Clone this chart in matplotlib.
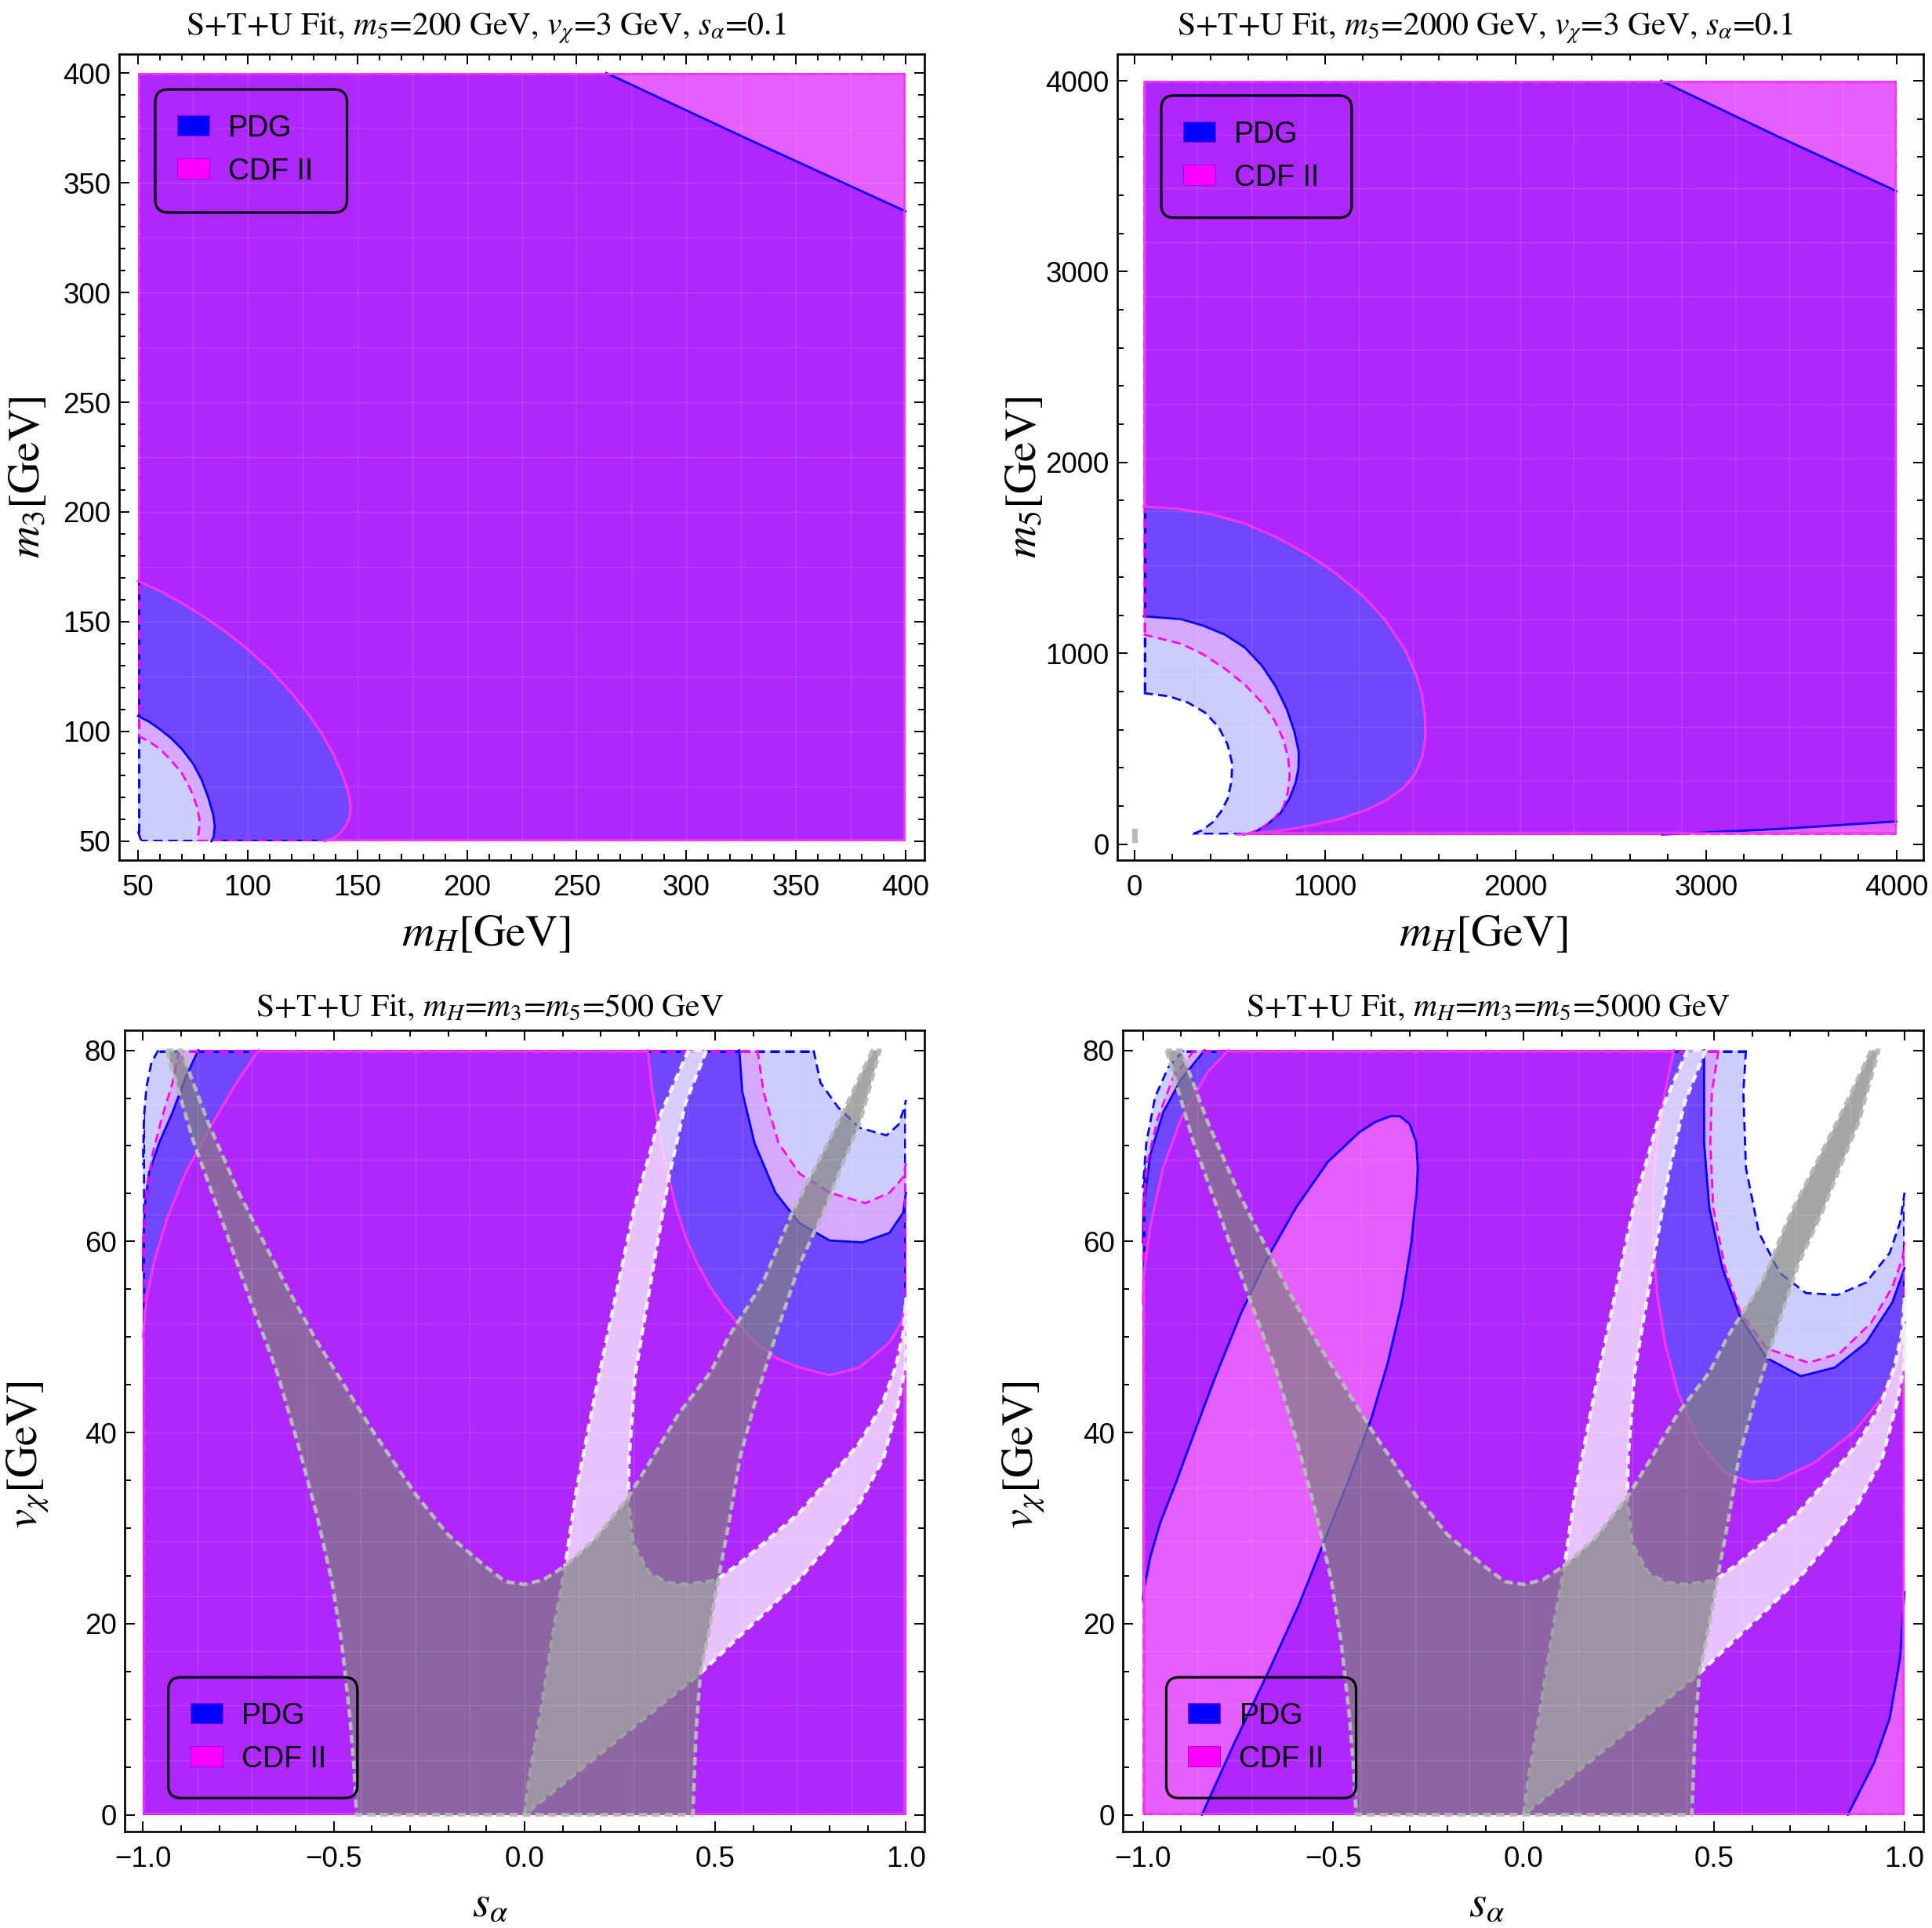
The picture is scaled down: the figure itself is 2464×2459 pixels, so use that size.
import numpy as np
import matplotlib
matplotlib.use("Agg")
import matplotlib.pyplot as plt
from matplotlib.path import Path
from matplotlib.patches import PathPatch, Rectangle, FancyBboxPatch
from matplotlib.ticker import MultipleLocator

plt.rcParams['mathtext.fontset'] = 'stix'
plt.rcParams['font.family'] = ['Liberation Sans', 'DejaVu Sans']

######## boundary curves (x, y) ########

# panel 1: m_H vs m_3, m5=200
p1_pdg95 = [(50, 54.5), (51.5, 50)]
p1_pdg68 = [(50, 107), (55, 104.5), (60, 101), (65, 97), (70, 92), (75, 85.5), (79, 78),
            (82, 70), (84.3, 62), (85, 57), (84.5, 52), (83.5, 50)]
p1_pdg68_top = [(263.5, 400), (330, 369), (400, 337)]
p1_cdf95 = [(50, 98), (55, 95.5), (60, 92), (65, 87), (70, 81), (74, 73.5), (76.8, 66),
            (78, 60), (77.8, 55), (77, 50)]
p1_cdf68 = [(50, 168.5), (60, 164), (70, 158.5), (80, 152.3), (90, 145.4), (100, 137.5), (110, 128.4),
            (120, 117.6), (128, 107.5), (134, 98.8), (139, 89.8), (143, 80.8), (145.8, 72.5), (147, 66),
            (146.5, 61), (144.8, 57), (142, 53.5), (139, 51.3), (135, 50)]

# panel 2: m_H vs m_5, m5=2000
p2_pdg95 = [(50, 791), (180, 775), (281, 742), (370, 690), (443, 613), (490, 520), (514, 420),
            (510, 330), (491, 240), (455, 170), (410, 113), (355, 72), (300, 50)]
p2_pdg68 = [(50, 1194), (249, 1178), (360, 1145), (475, 1098), (580, 1030), (669, 936), (740, 830),
            (799, 710), (840, 590), (863, 484), (862, 400), (847, 323), (815, 240), (766, 161),
            (700, 105), (637, 65), (575, 50)]
p2_pdg68_top = [(2765, 4000), (3385, 3705), (4000, 3422)]
p2_pdg68_bottom = [(2770, 50), (3400, 80), (4000, 119)]
p2_cdf95 = [(50, 1098), (249, 1049), (360, 995), (475, 920), (580, 835), (669, 742), (735, 650),
            (782, 549), (808, 450), (815, 355), (805, 270), (782, 194), (735, 135), (669, 85),
            (610, 58), (565, 50)]
p2_cdf68 = [(50, 1769), (230, 1757), (411, 1727), (580, 1680), (734, 1614), (900, 1525), (1057, 1420),
            (1200, 1300), (1316, 1175), (1420, 1020), (1478, 890), (1510, 780), (1526, 660), (1527, 560),
            (1512, 460), (1475, 370), (1413, 295), (1320, 228), (1219, 180), (1080, 132), (928, 98),
            (780, 73), (637, 58), (540, 50)]
p2_gray_mark = [(-11, 7), (16, 7), (16, 81), (-11, 81)]

# panel 3: s_alpha vs v_chi, masses 500
p3_pdg95_tl = [(-0.960, 80), (-0.978, 78.7), (-0.991, 76.1), (-0.9975, 72.9), (-1.0, 68.0)]
p3_pdg95_tr = [(0.758, 80), (0.776, 76.6), (0.823, 74.0), (0.878, 71.9), (0.949, 71.1),
               (0.980, 72.2), (0.996, 74.0), (1.0, 74.8)]
p3_pdg68_tl = [(-0.855, 80), (-0.888, 77.2), (-0.9225, 73.5), (-0.9567, 70.4), (-0.984, 67.2),
               (-0.994, 64.1), (-0.999, 60.5), (-1.0, 57.0)]
p3_pdg68_tr = [(0.563, 80), (0.5714, 75.6), (0.603, 70.3), (0.658, 65.1), (0.721, 61.9),
               (0.80, 60.1), (0.886, 59.9), (0.957, 60.9), (0.9925, 63.0), (1.0, 65.1)]
p3_cdf95_tl = [(-0.905, 80), (-0.9225, 76.6), (-0.950, 73.0), (-0.974, 69.3), (-0.991, 65.1),
               (-0.9975, 61.5), (-1.0, 58.5)]
p3_cdf95_tr = [(0.611, 80), (0.627, 75.6), (0.666, 70.3), (0.721, 67.1), (0.80, 65.1),
               (0.894, 64.0), (0.957, 65.1), (0.9925, 66.7), (1.0, 68.2)]
p3_cdf68_tl = [(-0.697, 80), (-0.755, 76.6), (-0.82, 72.2), (-0.888, 67.2), (-0.936, 62.5),
               (-0.970, 58.0), (-0.991, 54.0), (-1.0, 50.0)]
p3_cdf68_tr = [(0.3235, 80), (0.3353, 75.6), (0.359, 70.3), (0.378, 66.8), (0.398, 63.5), (0.424, 60.3),
               (0.453, 57.7), (0.487, 55.2), (0.524, 53.1), (0.603, 49.4), (0.66, 47.8), (0.721, 46.8),
               (0.80, 46.0), (0.878, 46.8), (0.957, 49.4), (0.9885, 51.5), (1.0, 53.5)]

# panel 4: s_alpha vs v_chi, masses 5000
p4_pdg95_tl = [(-0.893, 80), (-0.9335, 78.2), (-0.968, 75.1), (-0.991, 70.3), (-1.0, 65.6)]
p4_pdg95_tr = [(0.5835, 80), (0.5766, 75.6), (0.5835, 67.7), (0.6177, 60.9), (0.6726, 56.7),
               (0.741, 54.6), (0.8236, 54.4), (0.899, 55.7), (0.961, 58.8), (0.9883, 62.0), (1.0, 65.1)]
p4_pdg68_tl = [(-0.838, 80), (-0.899, 77.0), (-0.947, 73.5), (-0.981, 69.0), (-0.9986, 63.5), (-1.0, 59.9)]
p4_pdg68_tr = [(0.4736, 80), (0.4736, 70.3), (0.4873, 63.5), (0.5217, 57.2), (0.5697, 52.0),
               (0.638, 47.8), (0.7276, 45.9), (0.8167, 46.8), (0.899, 49.4), (0.9677, 53.6), (1.0, 57.2)]
p4_pdg68_ellipse = [(-0.845, 0), (-0.76, 7.5), (-0.67, 15), (-0.59, 22), (-0.52, 29), (-0.455, 35.5),
                    (-0.40, 41.5), (-0.357, 47.3), (-0.32, 53.6), (-0.295, 59.9), (-0.2815, 65.1),
                    (-0.278, 67.7), (-0.283, 70.5), (-0.30, 72.3), (-0.325, 73.1), (-0.35, 73.1),
                    (-0.39, 72.5), (-0.4324, 71.4), (-0.5147, 68.3), (-0.597, 63.6), (-0.6725, 58.3),
                    (-0.741, 52.6), (-0.81, 45.8), (-0.8647, 40.0), (-0.9127, 34.8), (-0.954, 30.6),
                    (-0.981, 26.9), (-0.9986, 23.2), (-1.0, 22.5)]
p4_pdg68_br = [(0.851, 0), (0.9197, 5.4), (0.961, 10.1), (0.9883, 16.4), (0.9952, 20.6), (1.0, 23.3)]
p4_cdf95_tl = [(-0.865, 80), (-0.92, 77.2), (-0.961, 72.9), (-0.988, 68.3), (-1.0, 63.5)]
p4_cdf95_tr = [(0.5114, 80), (0.494, 75.6), (0.490, 70.3), (0.4977, 63.5), (0.5285, 57.2),
               (0.5697, 52.5), (0.638, 48.8), (0.748, 47.3), (0.830, 48.3), (0.9126, 51.5),
               (0.9677, 55.2), (0.995, 58.3), (1.0, 59.9)]
p4_cdf68_tl = [(-0.7754, 80), (-0.830, 77.7), (-0.899, 72.9), (-0.947, 67.7), (-0.981, 61.5),
               (-0.9986, 56.2), (-1.0, 53.6)]
p4_cdf68_tr = [(0.3947, 80), (0.3706, 75.6), (0.350, 70.3), (0.3397, 65.1), (0.3397, 59.9),
               (0.350, 54.6), (0.3706, 49.4), (0.405, 44.2), (0.460, 39.0), (0.5285, 35.8),
               (0.597, 34.8), (0.666, 35.0), (0.762, 36.8), (0.865, 40.0), (0.940, 43.6),
               (0.9815, 47.3), (1.0, 51.5)]

# gray band and light ribbon (same in panels 3 and 4)
gray_outer_left = [(-0.938, 80), (-0.868, 70.5), (-0.80, 63), (-0.72, 54), (-0.65, 46.5), (-0.595, 39),
                   (-0.545, 31.5), (-0.505, 24.5), (-0.479, 18), (-0.457, 10), (-0.447, 5), (-0.44, 0)]
gray_outer_right = [(0.4415, 0), (0.4495, 8.5), (0.461, 14.8), (0.483, 19), (0.51, 25), (0.538, 31),
                    (0.565, 37.4), (0.61, 44), (0.66, 50.3), (0.72, 57.5), (0.785, 63.2), (0.83, 67.7),
                    (0.88, 72.5), (0.932, 80)]
gray_inner = [(0.912, 80), (0.835, 73.5), (0.762, 67.7), (0.704, 63.2), (0.625, 55.7), (0.535, 50),
              (0.4873, 46.3), (0.405, 42), (0.345, 38), (0.2747, 33.4), (0.186, 28.9), (0.107, 26.05),
              (0.05, 24.6), (0.0, 24.1), (-0.05, 24.4), (-0.10, 25.9), (-0.20, 29.3), (-0.283, 33.4),
              (-0.40, 40.3), (-0.545, 49.6), (-0.62, 55), (-0.683, 59.9), (-0.75, 65.2), (-0.83, 72.5),
              (-0.90, 80)]
rib_outer_left = [(0, 0), (0.012, 3.8), (0.044, 11.1), (0.075, 19.0), (0.107, 26.05), (0.135, 33.7),
                  (0.186, 44.1), (0.241, 54.6), (0.288, 63.5), (0.359, 73.5), (0.43, 80)]
rib_inner = [(0.477, 80), (0.422, 74.5), (0.38, 67), (0.337, 57.2), (0.29, 46), (0.274, 37.3),
             (0.272, 33.1), (0.284, 28.4), (0.327, 25.3), (0.375, 24.3), (0.422, 24.1), (0.50, 24.5),
             (0.564, 26.3), (0.642, 28.9), (0.721, 31.6), (0.80, 35.2), (0.878, 38.9), (0.934, 42.6),
             (0.973, 46.8), (0.993, 50.4), (1.0, 54.0)]
rib_outer_right = [(1.0, 47.3), (0.98, 43.1), (0.941, 37.3), (0.878, 32.6), (0.80, 28.4), (0.721, 24.7),
                   (0.642, 21.6), (0.564, 18.7), (0.461, 14.8)]

legend_labels = ['PDG', 'CDF II']
titles = [r'S+T+U Fit, $m_5$=200 GeV, $v_\chi$=3 GeV, $s_\alpha$=0.1',
          r'S+T+U Fit, $m_5$=2000 GeV, $v_\chi$=3 GeV, $s_\alpha$=0.1',
          r'S+T+U Fit, $m_H$=$m_3$=$m_5$=500 GeV',
          r'S+T+U Fit, $m_H$=$m_3$=$m_5$=5000 GeV']
xlabels = [r'$m_H$[GeV]', r'$m_H$[GeV]', r'$s_\alpha$', r'$s_\alpha$']
ylabels = [r'$m_3$[GeV]', r'$m_5$[GeV]', r'$v_\chi$[GeV]', r'$v_\chi$[GeV]']

######## styles ########
BLUE = (0, 0, 1)
MAGENTA = (1, 0, 1)
LEVELS = ['pdg95', 'pdg68', 'cdf95', 'cdf68']
STYLE = {
    'pdg95': dict(color=BLUE, alpha=0.2, dashed=True, lw=2.0),
    'pdg68': dict(color=BLUE, alpha=0.58, dashed=False, lw=2.0),
    'cdf95': dict(color=MAGENTA, alpha=0.17, dashed=True, lw=2.0),
    'cdf68': dict(color=(1, 0.2, 1), alpha=0.44, dashed=False, lw=2.2),
}


def signed_area(pts):
    x = np.array([p[0] for p in pts])
    y = np.array([p[1] for p in pts])
    return 0.5 * np.sum(x * np.roll(y, -1) - np.roll(x, -1) * y)


def corner(rect, name):
    x0, x1, y0, y1 = rect
    return {'bl': (x0, y0), 'br': (x1, y0), 'tl': (x0, y1), 'tr': (x1, y1)}[name]


def region_path(rect, holes):
    x0, x1, y0, y1 = rect
    rings = [([(x0, y0), (x1, y0), (x1, y1), (x0, y1)], True)]
    for curve, cname in holes:
        rings.append((list(curve) + [corner(rect, cname)], False))
    verts, codes = [], []
    for ring, ccw in rings:
        if (signed_area(ring) > 0) != ccw:
            ring = ring[::-1]
        verts += ring + [ring[0]]
        codes += [Path.MOVETO] + [Path.LINETO] * (len(ring) - 1) + [Path.CLOSEPOLY]
    return Path(verts, codes)


def draw_regions(ax, rect, holes):
    x0, x1, y0, y1 = rect
    fills = {}
    for i, lev in enumerate(LEVELS):
        st = STYLE[lev]
        fc = BLUE if lev.startswith('pdg') else MAGENTA
        patch = PathPatch(region_path(rect, holes.get(lev, [])), facecolor=fc,
                          alpha=st['alpha'], lw=0, zorder=1 + i)
        ax.add_patch(patch)
        fills[lev] = patch
    for i, lev in enumerate(LEVELS):
        st = STYLE[lev]
        kw = dict(color=st['color'], lw=st['lw'], zorder=5 + 0.1 * i,
                  solid_joinstyle='round', dash_joinstyle='round')
        if st['dashed']:
            kw['dashes'] = (4.2, 2.4)
        border = Rectangle((x0, y0), x1 - x0, y1 - y0, fill=False, edgecolor=st['color'],
                           lw=st['lw'] * 1.8, zorder=5 + 0.1 * i,
                           linestyle=(0, (2.4, 1.4)) if st['dashed'] else '-')
        border.set_clip_path(fills[lev])
        ax.add_patch(border)
        for curve, _ in holes.get(lev, []):
            ax.plot([p[0] for p in curve], [p[1] for p in curve], **kw)


def draw_band(ax, rect, pts, fc, alpha, ec, z):
    x0, x1, y0, y1 = rect
    path = Path(pts + [pts[0]], [Path.MOVETO] + [Path.LINETO] * (len(pts) - 1) + [Path.CLOSEPOLY])
    ax.add_patch(PathPatch(path, facecolor=fc, alpha=alpha, lw=0, zorder=z))
    clip = Rectangle((x0, y0), x1 - x0, y1 - y0, transform=ax.transData)
    edge = PathPatch(path, fill=False, edgecolor=ec, lw=3.3, linestyle=(0, (2.3, 1.3)),
                     joinstyle='round', zorder=z + 0.1)
    edge.set_clip_path(clip)
    ax.add_patch(edge)


def draw_legend(ax, box):
    bx, by, bw, bh = box
    fig = ax.figure
    pos = ax.get_position()
    axw = pos.width * fig.get_figwidth() * fig.dpi
    axh = pos.height * fig.get_figheight() * fig.dpi
    ax.add_patch(FancyBboxPatch((bx, by), bw, bh, boxstyle='round,pad=0,rounding_size=0.016',
                                transform=ax.transAxes, fc='none', ec='black', lw=2.3, zorder=20))
    for i, (lab, col) in enumerate(zip(legend_labels, [BLUE, MAGENTA])):
        cy = by + bh - (46 + 55 * i) / axh
        ax.add_patch(Rectangle((bx + 28 / axw, cy - 13 / axh), 41 / axw, 26 / axh, transform=ax.transAxes,
                               fc=col, ec=(0.6, 0, 0.8), lw=0.6, zorder=21))
        ax.text(bx + 93 / axw, cy, lab, transform=ax.transAxes, va='center_baseline', ha='left',
                fontsize=27, zorder=22)


panels = [
    dict(pos=[0.06169, 0.55388, 0.41680, 0.41806], rect=(50, 400, 50, 400),
         xlim=(41.4, 408.6), ylim=(41.4, 408.6), major=(50, 50), minor=(10, 10),
         holes={'pdg95': [(p1_pdg95, 'bl')],
                'pdg68': [(p1_pdg68, 'bl'), (p1_pdg68_top, 'tr')],
                'cdf95': [(p1_cdf95, 'bl')],
                'cdf68': [(p1_cdf68, 'bl')]},
         legend=(0.0448, 0.8035, 0.2381, 0.1527), title_pad=18, xl=(0.455, -0.092), yl=(-0.113, 0.475)),
    dict(pos=[0.57833, 0.55388, 0.41721, 0.41806], rect=(50, 4000, 50, 4000),
         xlim=(-89, 4141), ylim=(-84, 4140), major=(1000, 1000), minor=(200, 200),
         holes={'pdg95': [(p2_pdg95, 'bl')],
                'pdg68': [(p2_pdg68, 'bl'), (p2_pdg68_top, 'tr'), (p2_pdg68_bottom, 'br')],
                'cdf95': [(p2_cdf95, 'bl')],
                'cdf68': [(p2_cdf68, 'bl')]},
         legend=(0.0545, 0.797, 0.2362, 0.1516), title_pad=18, xl=(0.454, -0.092), yl=(-0.115, 0.475)),
    dict(pos=[0.06453, 0.05002, 0.41396, 0.41562], rect=(-1, 1, 0, 80),
         xlim=(-1.048, 1.0485), ylim=(-1.76, 82.1), major=(0.5, 20), minor=(0.1, 5),
         holes={'pdg95': [(p3_pdg95_tl, 'tl'), (p3_pdg95_tr, 'tr')],
                'pdg68': [(p3_pdg68_tl, 'tl'), (p3_pdg68_tr, 'tr')],
                'cdf95': [(p3_cdf95_tl, 'tl'), (p3_cdf95_tr, 'tr')],
                'cdf68': [(p3_cdf68_tl, 'tl'), (p3_cdf68_tr, 'tr')]},
         legend=(0.0545, 0.0418, 0.2365, 0.1507), title_pad=13, xl=(0.457, -0.092), yl=(-0.121, 0.47)),
    dict(pos=[0.58117, 0.05002, 0.41437, 0.41562], rect=(-1, 1, 0, 80),
         xlim=(-1.0527, 1.0494), ylim=(-1.76, 82.1), major=(0.5, 20), minor=(0.1, 5),
         holes={'pdg95': [(p4_pdg95_tl, 'tl'), (p4_pdg95_tr, 'tr')],
                'pdg68': [(p4_pdg68_tl, 'tl'), (p4_pdg68_tr, 'tr'), (p4_pdg68_ellipse, 'bl'),
                          (p4_pdg68_br, 'br')],
                'cdf95': [(p4_cdf95_tl, 'tl'), (p4_cdf95_tr, 'tr')],
                'cdf68': [(p4_cdf68_tl, 'tl'), (p4_cdf68_tr, 'tr')]},
         legend=(0.0543, 0.0418, 0.2371, 0.1507), title_pad=13, xl=(0.4545, -0.092), yl=(-0.123, 0.47)),
]

fig = plt.figure(figsize=(24.64, 24.59), dpi=100)

for k, pn in enumerate(panels):
    ax = fig.add_axes(pn['pos'])
    rect = pn['rect']
    draw_regions(ax, rect, pn['holes'])

    if k >= 2:
        draw_band(ax, rect, rib_outer_left + rib_inner + rib_outer_right, 'white', 0.72,
                  (0.95, 0.95, 0.98), 10)
        draw_band(ax, rect, gray_outer_left + gray_outer_right + gray_inner, (0.5, 0.5, 0.5), 0.71,
                  (0.72, 0.72, 0.72), 11)
    if k == 1:
        ax.add_patch(PathPatch(Path(p2_gray_mark + [p2_gray_mark[0]], closed=True),
                               facecolor=(0.55, 0.55, 0.55), alpha=0.6, lw=0, zorder=11))

    # faint rendering mesh seen in the original
    x0, x1, y0, y1 = rect
    for t in np.linspace(x0, x1, 15)[1:-1]:
        ax.plot([t, t], [y0, y1], color='white', lw=1.0, alpha=0.12, zorder=12)
    for t in np.linspace(y0, y1, 15)[1:-1]:
        ax.plot([x0, x1], [t, t], color='white', lw=1.0, alpha=0.12, zorder=12)

    ax.set_xlim(*pn['xlim'])
    ax.set_ylim(*pn['ylim'])
    ax.xaxis.set_major_locator(MultipleLocator(pn['major'][0]))
    ax.yaxis.set_major_locator(MultipleLocator(pn['major'][1]))
    ax.xaxis.set_minor_locator(MultipleLocator(pn['minor'][0]))
    ax.yaxis.set_minor_locator(MultipleLocator(pn['minor'][1]))
    ax.tick_params(which='both', direction='in', top=True, right=True, labelsize=26.5, width=1.4)
    ax.tick_params(which='major', length=9.4)
    ax.tick_params(which='minor', length=5.8)
    ax.tick_params(axis='x', pad=13)
    ax.tick_params(axis='y', pad=7.5)
    for sp in ax.spines.values():
        sp.set_linewidth(1.9)

    ax.set_title(titles[k], x=0.456, pad=pn['title_pad'], fontsize=30, family='STIXGeneral')
    ax.set_xlabel(xlabels[k], fontsize=41, family='STIXGeneral')
    ax.set_ylabel(ylabels[k], fontsize=41, family='STIXGeneral')
    ax.xaxis.set_label_coords(*pn['xl'])
    ax.yaxis.set_label_coords(*pn['yl'])
    ax.xaxis.label.set_va('center')
    ax.yaxis.label.set_va('center')

    draw_legend(ax, pn['legend'])

fig.savefig('out.png', dpi=100)
